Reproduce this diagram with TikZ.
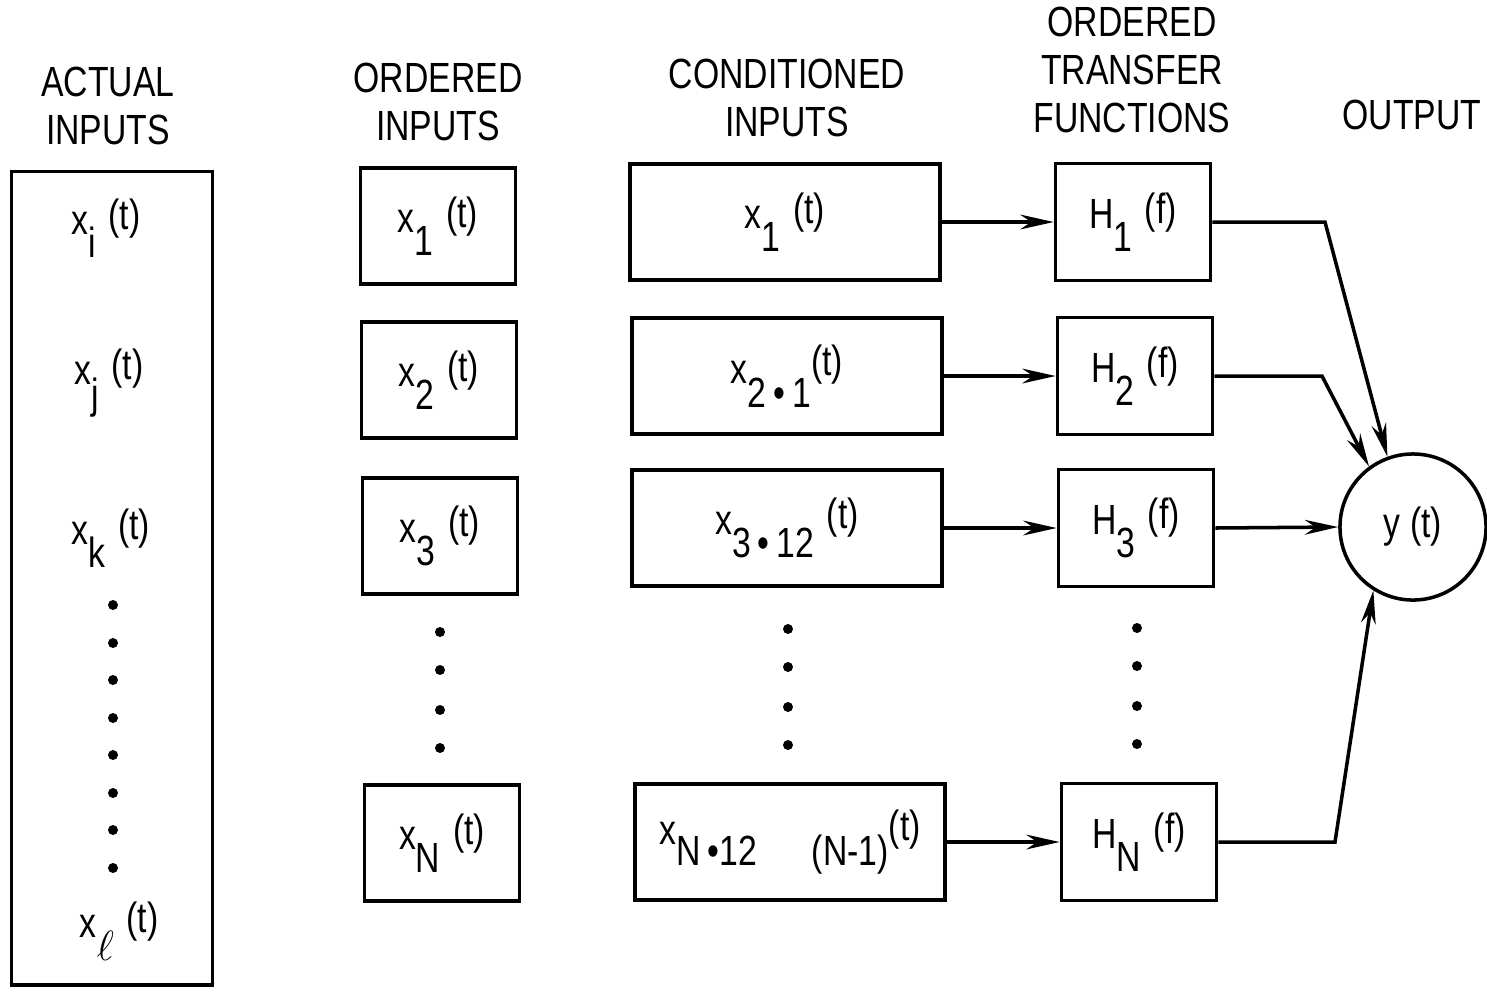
\documentclass[tikz,border=0pt]{standalone}
\usepackage{fontspec}
\setmainfont{Liberation Sans}[FakeStretch=0.8]
\usetikzlibrary{arrows.meta}

\newcommand{\sig}[3]{#1\raisebox{-0.55em}{#2}\hspace{0.3em}\raisebox{0.12em}{#3}}

\begin{document}
\begin{tikzpicture}[x=0.01cm, y=-0.01cm,
                    line width=1pt,
                    font=\fontsize{12}{13.6}\selectfont,
                    >={Stealth[length=9.5pt,width=4.2pt]},
                    ]
    \tikzstyle{head}=[align=center, inner sep=0pt]
    \tikzstyle{ordbox}=[draw, minimum width=1.55cm, minimum height=1.16cm, inner sep=0pt]
    \tikzstyle{condbox}=[ordbox, minimum width=3.1cm]
    \tikzstyle{hbox}=[ordbox, minimum height=1.17cm]
    \tikzstyle{sum}=[draw, circle, minimum size=1.46cm, inner sep=0pt]
    \tikzstyle{dot}=[fill=black]

    \useasboundingbox (0,0) rectangle (1487,993);

    % headings
    \node[head] (hact)  at (108,106)  {ACTUAL\\INPUTS};
    \node[head] (hord)  at (438,102)  {ORDERED\\INPUTS};
    \node[head] (hcond) at (787,98)   {CONDITIONED\\INPUTS};
    \node[head] (hfun)  at (1132,70)  {ORDERED\\TRANSFER\\FUNCTIONS};
    \node[head] (hout)  at (1412,115) {OUTPUT};

    % actual inputs
    \node[draw, minimum width=2.01cm, minimum height=8.13cm, inner sep=0pt] (act) at (112,578) {};
    \node (xi) at (106,228) {\sig{x}{i}{(t)}};
    \node (xj) at (109,383) {\sig{x}{j}{(t)}};
    \node (xk) at (111,538) {\sig{x}{k}{(t)}};
    \node (xl) at (119,931) {\sig{x}{$\ell$}{(t)}};

    % ordered inputs
    \node[ordbox] (ord1) at (438,226) {\sig{x}{1}{(t)}};
    \node[ordbox] (ord2) at (439,380) {\sig{x}{2}{(t)}};
    \node[ordbox] (ord3) at (440,536) {\sig{x}{3}{(t)}};
    \node[ordbox] (ordN) at (442,843) {\sig{x}{N}{(t)}};

    % conditioned inputs
    \node[condbox] (cond1) at (785,222) {\sig{x}{1}{(t)}};
    \node[condbox] (cond2) at (787,376) {x\raisebox{-0.55em}{2\,•\,1}\raisebox{0.2em}{(t)}};
    \node[condbox] (cond3) at (787,528) {\sig{x}{3\,•\,12}{(t)}};
    \node[condbox] (condN) at (790,842) {x\raisebox{-0.5em}{N\,•12\hspace{1.3em}(N-1)}\raisebox{0.1em}{(t)}};

    % transfer functions
    \node[hbox] (H1) at (1133,222) {\sig{H}{1}{(f)}};
    \node[hbox] (H2) at (1135,376) {\sig{H}{2}{(f)}};
    \node[hbox] (H3) at (1136,528) {\sig{H}{3}{(f)}};
    \node[hbox] (HN) at (1139,842) {\sig{H}{N}{(f)}};

    % output
    \node[sum] (out) at (1413,527) {y (t)};

    % dots
    \foreach \y in {605,643,680,718,755,793,830,868}
        \fill[dot] (113,\y) circle (5);
    \foreach \y in {632,670,710,748} {
        \fill[dot] (440,\y) circle (5);
        \fill[dot] (788,\y-3) circle (5);
        \fill[dot] (1137,\y-4) circle (5);
    }

    % connectors
    \draw[->] (cond1.east) -- (H1.west);
    \draw[->] (cond2.east) -- (H2.west);
    \draw[->] (cond3.east) -- (H3.west);
    \draw[->] (condN.east) -- (HN.west);

    \coordinate (b1) at (1325,222);
    \coordinate (b2) at (1322,376);
    \coordinate (bN) at (1335,842);
    \draw[->] (H1.east) -- (b1) -- (out.110);
    \draw[->] (H2.east) -- (b2) -- (out.126);
    \draw[->] (H3.east) -- (out.west);
    \draw[->] (HN.east) -- (bN) -- (out.238);
\end{tikzpicture}
\end{document}
